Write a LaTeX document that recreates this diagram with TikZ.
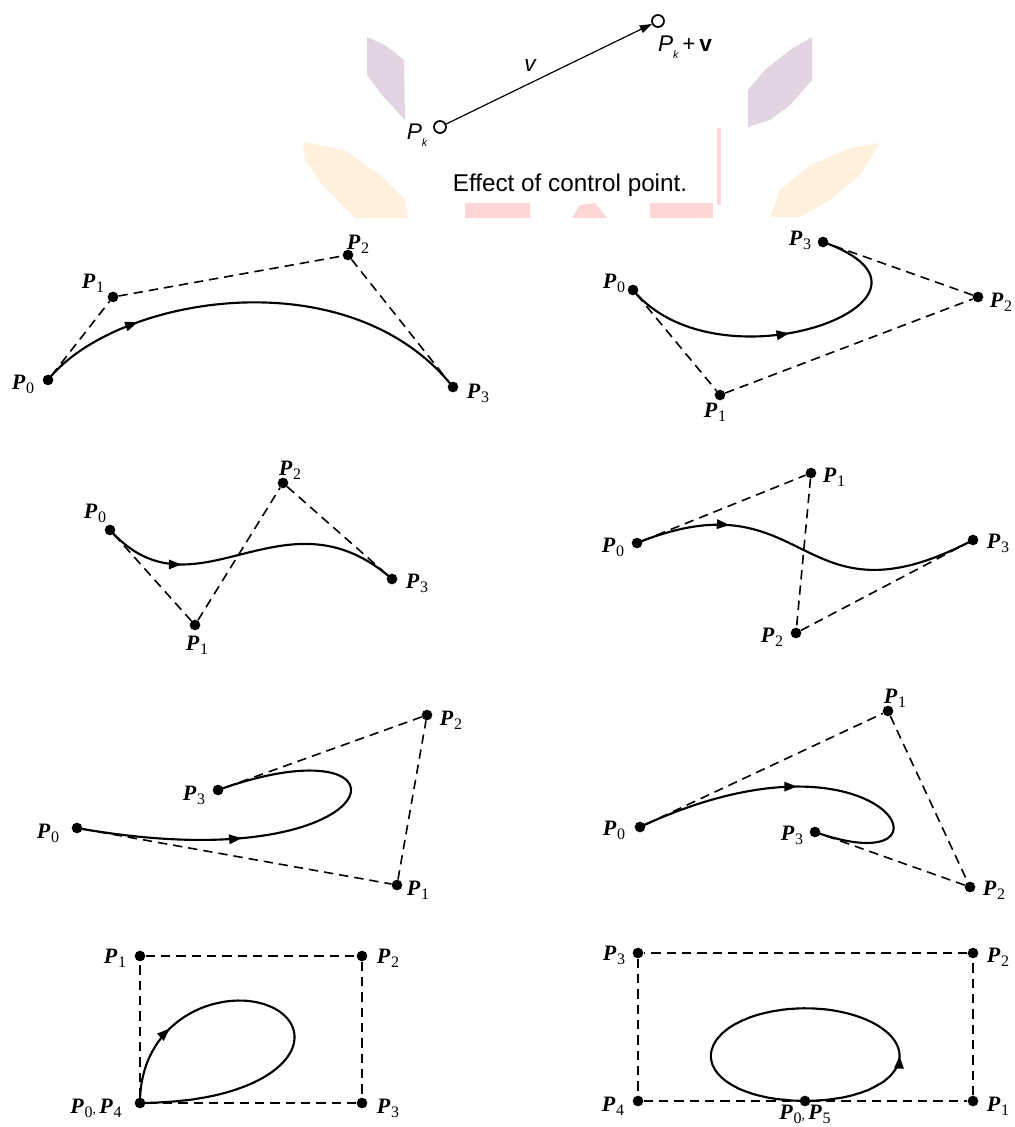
\documentclass[tikz,border=0pt]{standalone}
\usepackage{fontspec}
\setmainfont{Liberation Serif}
\newfontfamily\hvfont{Liberation Sans}
\usetikzlibrary{arrows.meta,decorations.markings}
\definecolor{wmpurplec}{RGB}{226,212,226}
\definecolor{wmorangec}{RGB}{255,241,221}
\definecolor{wmpinkc}{RGB}{255,214,214}
\newcommand\PL[1]{{\fontsize{16.5}{16.5}\selectfont\bfseries\itshape P}\kern0.6pt\raisebox{-3pt}{\fontsize{12}{12}\selectfont #1}}
\tikzset{
  cpt/.style={circle,fill=black,inner sep=0pt,minimum size=8pt},
  opt/.style={circle,draw=black,line width=1.3pt,fill=white,inner sep=0pt,minimum size=9pt},
  dashline/.style={line width=1.2pt,dash pattern=on 7pt off 4.5pt},
  curve/.style={line width=1.6pt},
  lab/.style={inner sep=0pt},
  arrowat/.style={postaction={decorate,decoration={markings,mark=at position #1 with {\arrow{Triangle[length=9.5pt,width=7pt]}}}}},
  wmpurple/.style={fill=wmpurplec,draw=none},
  wmorange/.style={fill=wmorangec,draw=none},
  wmpink/.style={fill=wmpinkc,draw=none}
}
\begin{document}
\begin{tikzpicture}[x=0.75pt,y=-0.75pt]
\path[use as bounding box,fill=white] (0,0) rectangle (1014,1127);
% watermark shapes
\fill[wmpurple] (367,37) -- (385,45) -- (404,60) -- (405,120) -- (382,95) -- (367,75) -- cycle;
\fill[wmorange] (303,142) -- (345,150) -- (380,175) -- (405,200) -- (408,218) -- (355,218) -- (320,182) -- (305,160) -- cycle;
\fill[wmpurple] (812,37) -- (812,80) -- (790,105) -- (770,120) -- (748,127) -- (748,90) -- (765,70) -- (790,50) -- cycle;
\fill[wmorange] (880,143) -- (860,175) -- (830,200) -- (800,217) -- (770,217) -- (780,190) -- (810,165) -- (850,148) -- cycle;
\fill[wmpink] (717,128) rectangle (721,205);
\fill[wmpink] (465,203) rectangle (530,218);
\fill[wmpink] (572,218) -- (580,205) -- (595,203) -- (607,218) -- cycle;
\fill[wmpink] (650,203) rectangle (713,218);
% top: effect of control point
\node[opt] (pk) at (440,127) {};
\node[opt] (pkv) at (658,21) {};
\draw[line width=0.9pt,-{Triangle[length=9pt,width=6pt]}] (pk) -- (pkv);
\node[lab,font=\hvfont\itshape\fontsize{17}{17}\selectfont] (lv) at (530,66) {v};
\node[lab,font=\hvfont\fontsize{17}{17}\selectfont] (lpk) at (417,135) {\textit{P}\raisebox{-5pt}{\fontsize{8}{8}\selectfont\itshape k}};
\node[lab,font=\hvfont\fontsize{17}{17}\selectfont] (lpkv) at (685,47) {\textit{P}\raisebox{-5pt}{\fontsize{8}{8}\selectfont\itshape k}\,+\,\textbf{v}};
\node[lab,font=\hvfont\fontsize{18.2}{18.2}\selectfont] (cap) at (570,185) {Effect of control point.};
% panel 1
\node[cpt] (a0) at (48,380) {};
\node[cpt] (a1) at (113,297) {};
\node[cpt] (a2) at (348,255) {};
\node[cpt] (a3) at (453,387) {};
\draw[dashline] (a0) -- (a1) -- (a2) -- (a3);
\draw[curve,arrowat=0.24] (a0.center) .. controls (a1.center) and (a2.center) .. (a3.center);
\node[lab] (la0) at (23,384) {\PL{0}};
\node[lab] (la1) at (93,283) {\PL{1}};
\node[lab] (la2) at (358,244) {\PL{2}};
\node[lab] (la3) at (478,393) {\PL{3}};
% panel 2
\node[cpt] (b0) at (633,290) {};
\node[cpt] (b1) at (720,395) {};
\node[cpt] (b2) at (978,297) {};
\node[cpt] (b3) at (823,242) {};
\draw[dashline] (b0) -- (b1) -- (b2) -- (b3);
\draw[curve,arrowat=0.5] (b0.center) .. controls (b1.center) and (b2.center) .. (b3.center);
\node[lab] (lb0) at (614,283) {\PL{0}};
\node[lab] (lb1) at (715,412) {\PL{1}};
\node[lab] (lb2) at (1001,302) {\PL{2}};
\node[lab] (lb3) at (800,240) {\PL{3}};
% panel 3
\node[cpt] (c0) at (110,530) {};
\node[cpt] (c1) at (195,625) {};
\node[cpt] (c2) at (283,483) {};
\node[cpt] (c3) at (392,579) {};
\draw[dashline] (c0) -- (c1) -- (c2) -- (c3);
\draw[curve,arrowat=0.27] (c0.center) .. controls (c1.center) and (c2.center) .. (c3.center);
\node[lab] (lc0) at (95,513) {\PL{0}};
\node[lab] (lc1) at (197,645) {\PL{1}};
\node[lab] (lc2) at (290,470) {\PL{2}};
\node[lab] (lc3) at (417,583) {\PL{3}};
% panel 4
\node[cpt] (d0) at (637,543) {};
\node[cpt] (d1) at (811,473) {};
\node[cpt] (d2) at (796,633) {};
\node[cpt] (d3) at (973,540) {};
\draw[dashline] (d0) -- (d1) -- (d2) -- (d3);
\draw[curve,arrowat=0.27] (d0.center) .. controls (d1.center) and (d2.center) .. (d3.center);
\node[lab] (ld0) at (613,547) {\PL{0}};
\node[lab] (ld1) at (834,477) {\PL{1}};
\node[lab] (ld2) at (772,637) {\PL{2}};
\node[lab] (ld3) at (998,543) {\PL{3}};
% panel 5
\node[cpt] (e0) at (77,828) {};
\node[cpt] (e1) at (397,885) {};
\node[cpt] (e2) at (427,715) {};
\node[cpt] (e3) at (218,790) {};
\draw[dashline] (e0) -- (e1) -- (e2) -- (e3);
\draw[curve,arrowat=0.38] (e0.center) .. controls (e1.center) and (e2.center) .. (e3.center);
\node[lab] (le0) at (48,833) {\PL{0}};
\node[lab] (le1) at (418,890) {\PL{1}};
\node[lab] (le2) at (451,720) {\PL{2}};
\node[lab] (le3) at (194,795) {\PL{3}};
% panel 6
\node[cpt] (f0) at (640,827) {};
\node[cpt] (f1) at (888,711) {};
\node[cpt] (f2) at (970,887) {};
\node[cpt] (f3) at (815,832) {};
\draw[dashline] (f0) -- (f1) -- (f2) -- (f3);
\draw[curve,arrowat=0.45] (f0.center) .. controls (f1.center) and (f2.center) .. (f3.center);
\node[lab] (lf0) at (614,830) {\PL{0}};
\node[lab] (lf1) at (895,698) {\PL{1}};
\node[lab] (lf2) at (994,890) {\PL{2}};
\node[lab] (lf3) at (792,835) {\PL{3}};
% panel 7 (degree 4)
\node[cpt] (g0) at (140,1103) {};
\node[cpt] (g1) at (140,956) {};
\node[cpt] (g2) at (362,956) {};
\node[cpt] (g3) at (362,1103) {};
\draw[dashline] (g0) -- (g1) -- (g2) -- (g3) -- (g0);
\draw[curve,arrowat=0.2] plot[domain=0:1,samples=120,variable=\t]
  ({(1-\t)^4*140 + 4*\t*(1-\t)^3*140 + 6*\t^2*(1-\t)^2*362 + 4*\t^3*(1-\t)*362 + \t^4*140},
   {(1-\t)^4*1103 + 4*\t*(1-\t)^3*956 + 6*\t^2*(1-\t)^2*956 + 4*\t^3*(1-\t)*1103 + \t^4*1103});
\node[lab] (lg1) at (115,958) {\PL{1}};
\node[lab] (lg2) at (388,958) {\PL{2}};
\node[lab] (lg3) at (388,1108) {\PL{3}};
\node[lab] (lg0) at (96,1108) {\PL{0}, \PL{4}};
% panel 8 (degree 5)
\node[cpt] (h0) at (805,1101) {};
\node[cpt] (h1) at (973,1101) {};
\node[cpt] (h2) at (973,953) {};
\node[cpt] (h3) at (638,953) {};
\node[cpt] (h4) at (638,1101) {};
\draw[dashline] (h0) -- (h1) -- (h2) -- (h3) -- (h4) -- (h0);
\draw[curve,arrowat=0.25] plot[domain=0:1,samples=150,variable=\t]
  ({(1-\t)^5*805 + 5*\t*(1-\t)^4*973 + 10*\t^2*(1-\t)^3*973 + 10*\t^3*(1-\t)^2*638 + 5*\t^4*(1-\t)*638 + \t^5*805},
   {(1-\t)^5*1101 + 5*\t*(1-\t)^4*1101 + 10*\t^2*(1-\t)^3*953 + 10*\t^3*(1-\t)^2*953 + 5*\t^4*(1-\t)*1101 + \t^5*1101});
\node[lab] (lh3) at (614,955) {\PL{3}};
\node[lab] (lh2) at (998,957) {\PL{2}};
\node[lab] (lh4) at (613,1106) {\PL{4}};
\node[lab] (lh1) at (998,1106) {\PL{1}};
\node[lab] (lh0) at (805,1114) {\PL{0}, \PL{5}};
\end{tikzpicture}
\end{document}
